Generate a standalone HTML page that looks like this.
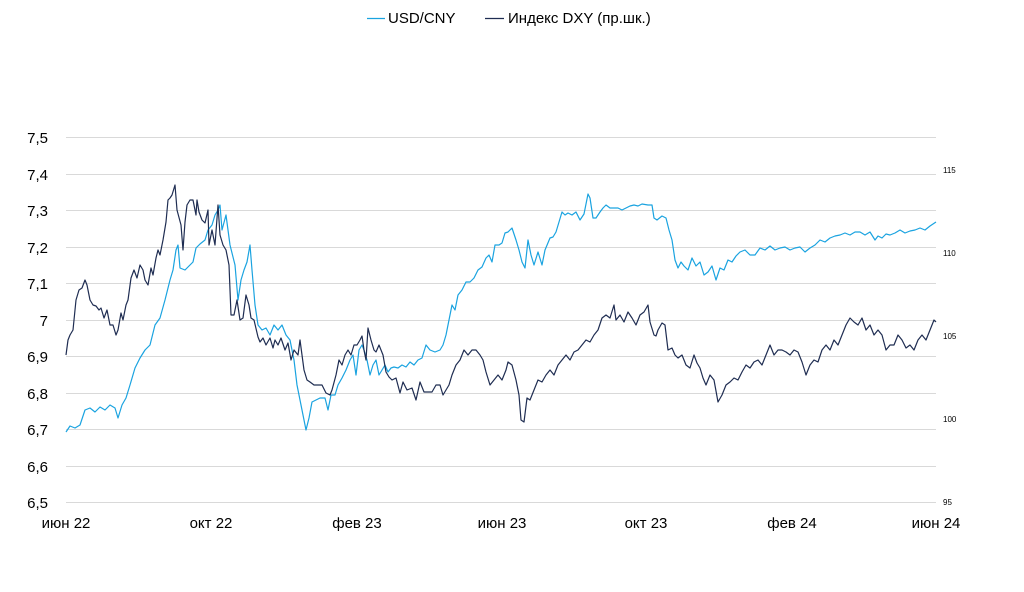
<!DOCTYPE html>
<html><head><meta charset="utf-8"><style>
html,body{margin:0;padding:0;background:#fff;}
svg{display:block;font-family:"Liberation Sans",Arial,sans-serif;}
</style></head><body>
<svg width="1024" height="592" viewBox="0 0 1024 592" xmlns="http://www.w3.org/2000/svg">
<g stroke="#d9d9d9" stroke-width="1">
<line x1="66" x2="936" y1="137.5" y2="137.5"/>
<line x1="66" x2="936" y1="174.5" y2="174.5"/>
<line x1="66" x2="936" y1="210.5" y2="210.5"/>
<line x1="66" x2="936" y1="247.5" y2="247.5"/>
<line x1="66" x2="936" y1="283.5" y2="283.5"/>
<line x1="66" x2="936" y1="320.5" y2="320.5"/>
<line x1="66" x2="936" y1="356.5" y2="356.5"/>
<line x1="66" x2="936" y1="393.5" y2="393.5"/>
<line x1="66" x2="936" y1="429.5" y2="429.5"/>
<line x1="66" x2="936" y1="466.5" y2="466.5"/>
<line x1="66" x2="936" y1="502.5" y2="502.5"/>
</g>
<g font-size="15" fill="#000" text-anchor="end">
<text x="48" y="143">7,5</text><text x="48" y="180">7,4</text><text x="48" y="216">7,3</text>
<text x="48" y="253">7,2</text><text x="48" y="289">7,1</text><text x="48" y="326">7</text>
<text x="48" y="362">6,9</text><text x="48" y="399">6,8</text><text x="48" y="435">6,7</text>
<text x="48" y="472">6,6</text><text x="48" y="508">6,5</text>
</g>
<g font-size="8" fill="#000">
<text x="943" y="173">115</text><text x="943" y="256">110</text><text x="943" y="339">105</text>
<text x="943" y="422">100</text><text x="943" y="505">95</text>
</g>
<g font-size="15" fill="#000" text-anchor="middle">
<text x="66" y="528">июн 22</text><text x="211" y="528">окт 22</text><text x="357" y="528">фев 23</text>
<text x="502" y="528">июн 23</text><text x="646" y="528">окт 23</text><text x="792" y="528">фев 24</text>
<text x="936" y="528">июн 24</text>
</g>
<line x1="367" x2="385" y1="18.5" y2="18.5" stroke="#1aa3e0" stroke-width="1.2"/>
<text x="388" y="23" font-size="15">USD/CNY</text>
<line x1="485" x2="504" y1="18.5" y2="18.5" stroke="#1f2d52" stroke-width="1.2"/>
<text x="508" y="23" font-size="15">Индекс DXY (пр.шк.)</text>
<polyline fill="none" stroke="#1aa3e0" stroke-width="1.2" stroke-linejoin="round" points="66,432 70,426 75,428 80,425 85,410 90,408 95,412 100,407 105,410 110,405 115,408 118,418 122,405 126,398 130,385 135,368 140,358 145,350 150,345 155,325 160,318 165,300 170,280 173,270 176,250 178,245 180,268 185,270 190,265 193,262 196,248 200,244 205,240 208,230 212,225 215,215 218,210 220,205 222,230 226,215 230,245 235,265 238,300 241,280 244,270 247,262 250,245 252,270 255,305 258,325 262,330 266,328 270,335 274,325 278,330 282,325 286,335 290,340 294,360 297,385 300,400 303,415 306,430 309,418 312,402 316,400 320,398 325,398 328,410 331,395 335,395 338,385 342,378 346,370 350,360 353,355 356,375 359,350 362,345 364,350 367,360 370,375 373,365 376,360 379,375 382,370 385,365 388,372 391,368 394,367 398,368 402,365 406,367 410,362 414,365 418,360 422,358 426,345 430,350 435,352 440,350 443,345 446,335 449,320 452,305 455,310 458,295 462,290 466,282 470,282 474,278 478,270 482,267 486,258 489,255 492,262 495,245 499,245 502,243 505,233 508,232 512,228 516,240 519,250 522,262 525,268 528,240 531,255 534,265 538,252 542,265 545,250 550,238 553,237 556,232 559,222 562,212 565,215 568,213 572,215 576,212 580,220 584,214 588,194 590,198 593,218 596,218 600,212 603,208 606,205 610,208 614,208 618,208 622,210 626,208 630,206 634,205 638,206 642,204 648,205 652,205 654,218 657,220 662,216 666,218 669,230 672,240 675,260 678,268 681,262 684,266 688,270 692,258 696,266 700,262 704,275 708,272 712,266 716,280 720,268 724,270 728,260 732,262 736,256 740,252 745,250 750,255 755,255 760,248 765,250 770,246 775,250 780,248 785,247 790,250 795,248 800,247 805,252 810,248 815,245 820,240 825,242 830,238 835,236 840,235 845,233 850,235 855,232 860,232 865,235 870,232 875,240 878,236 882,238 886,234 890,235 895,233 900,230 905,233 910,231 915,230 920,228 925,230 930,226 936,222"/>
<polyline fill="none" stroke="#1f2d52" stroke-width="1.2" stroke-linejoin="round" points="66,355 68,340 70,335 73,330 76,300 79,290 82,288 85,280 87,285 90,300 93,305 96,306 99,310 101,308 104,318 107,310 110,325 113,325 116,335 118,330 121,313 123,320 126,305 128,300 131,278 134,270 137,278 140,265 143,270 145,280 148,285 151,268 153,275 156,258 158,250 160,255 163,240 166,222 168,200 170,198 172,195 175,185 177,210 181,225 183,250 185,222 187,205 190,200 193,200 196,215 197,200 199,212 202,220 205,223 208,210 209,245 212,230 215,245 218,205 220,235 223,245 226,250 229,265 231,315 234,315 237,300 240,320 243,318 246,295 249,305 251,318 254,320 258,337 260,342 263,338 266,345 270,338 273,348 275,340 278,345 281,338 285,350 288,343 291,360 294,350 298,355 300,340 304,370 307,380 310,382 314,385 318,385 322,385 326,393 330,395 332,390 336,375 339,360 342,365 345,355 348,350 351,355 354,345 357,345 360,340 362,336 364,350 366,360 368,328 371,340 374,350 376,352 379,345 383,355 386,372 389,377 392,380 396,378 400,393 403,382 407,390 412,388 416,400 420,382 424,392 428,392 432,392 436,385 440,385 443,395 446,390 449,385 452,375 456,365 460,360 464,350 468,355 472,350 476,350 480,355 483,360 486,372 490,385 494,380 498,375 502,380 506,370 508,362 512,365 516,380 519,395 521,420 524,422 527,398 530,400 534,390 538,380 542,382 546,375 550,370 554,375 558,365 562,360 566,355 570,360 574,352 578,350 582,345 586,340 590,342 594,335 598,330 602,318 606,315 610,318 614,305 616,320 620,315 624,322 628,312 632,318 636,325 640,315 644,312 648,305 650,322 654,335 656,336 658,330 662,323 665,325 668,350 672,348 675,355 678,358 682,355 686,365 690,368 694,355 697,363 700,368 703,378 706,385 710,375 714,380 718,402 722,395 726,385 730,382 734,378 738,380 742,372 746,365 750,368 754,362 758,360 762,365 766,355 770,345 774,355 778,350 782,350 786,352 790,355 794,350 798,352 802,362 806,375 810,365 814,360 818,362 822,350 826,345 830,350 834,340 838,345 842,335 846,325 850,318 854,322 858,325 862,318 866,330 870,325 874,335 878,330 882,335 886,350 890,345 894,345 898,335 902,340 906,348 910,345 914,350 918,340 922,335 926,340 930,330 934,320 936,322"/>
</svg>
</body></html>
